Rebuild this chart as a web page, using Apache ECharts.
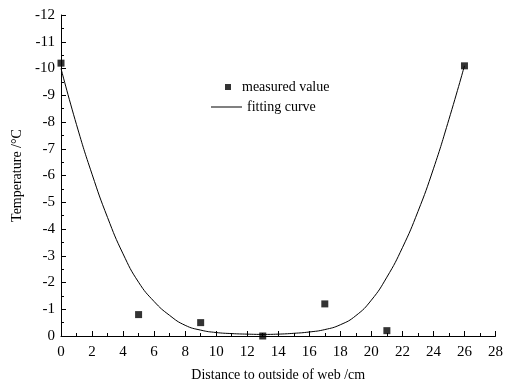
<!DOCTYPE html>
<html>
<head>
<meta charset="utf-8">
<script src="https://cdn.jsdelivr.net/npm/echarts@6/dist/echarts.min.js"></script>
<style>
  html, body { margin: 0; padding: 0; background: #fff; }
  #chart { width: 506px; height: 387px; }
</style>
</head>
<body>
<div id="chart"></div>
<script>
// 实测点
const measuredX = [0, 5, 9, 13, 17, 21, 26];
const measuredY = [-10.2, -0.8, -0.5, 0, -1.2, -0.2, -10.1];

// 拟合曲线
const curveX = [0, 1, 2, 3, 4, 5, 6, 7, 8, 9, 10, 11, 12, 13,
                14, 15, 16, 17, 18, 19, 20, 21, 22, 23, 24, 25, 26];
const curveY = [-10, -7.9, -6.05, -4.43, -3.07, -2.01, -1.29, -0.77, -0.40, -0.22, -0.13,
                -0.09, -0.07, -0.06, -0.07, -0.10, -0.15, -0.24, -0.42, -0.76, -1.34,
                -2.20, -3.30, -4.65, -6.25, -8.10, -10.1];

const font = 'Liberation Serif, Times New Roman, serif';

const option = {
    animation: false,
    backgroundColor: '#fff',
    textStyle: { fontFamily: font, color: '#000' },
    grid: { left: 61, right: 9, top: 15, bottom: 48 },
    legend: [
        {
            data: ['measured value'],
            left: 220, top: 75,
            icon: 'rect', itemWidth: 6, itemHeight: 6,
            textStyle: { fontFamily: font, fontSize: 14, color: '#000', padding: [0, 0, 0, 6] }
        },
        {
            data: [{ name: 'fitting curve', icon: 'rect' }],
            left: 206, top: 95,
            itemWidth: 31, itemHeight: 1,
            textStyle: { fontFamily: font, fontSize: 14, color: '#000' }
        }
    ],
    xAxis: {
        type: 'value',
        min: 0, max: 28, interval: 2,
        name: 'Distance to outside of web /cm',
        nameLocation: 'middle', nameGap: 32,
        nameTextStyle: { fontFamily: font, fontSize: 14, color: '#000' },
        axisLine: { lineStyle: { color: '#000', width: 1 } },
        axisTick: { inside: true, length: 5, lineStyle: { color: '#000' } },
        minorTick: { show: true, splitNumber: 2, length: 3, lineStyle: { color: '#000' } },
        axisLabel: { fontFamily: font, fontSize: 15, color: '#000', margin: 9 },
        splitLine: { show: false }
    },
    yAxis: {
        type: 'value',
        inverse: true,
        min: -12, max: 0, interval: 1,
        name: 'Temperature /\u00b0C',
        nameLocation: 'middle', nameGap: 37,
        nameTextStyle: { fontFamily: font, fontSize: 14, color: '#000' },
        axisLine: { show: true, lineStyle: { color: '#000', width: 1 } },
        axisTick: { show: true, inside: true, length: 5, lineStyle: { color: '#000' } },
        minorTick: { show: true, splitNumber: 2, length: 3, lineStyle: { color: '#000' } },
        axisLabel: { fontFamily: font, fontSize: 15, color: '#000', margin: 6 },
        splitLine: { show: false }
    },
    series: [
        {
            name: 'measured value',
            type: 'scatter',
            symbol: 'rect',
            symbolSize: 7,
            itemStyle: { color: '#000' },
            data: measuredX.map((x, i) => [x, measuredY[i]]),
            z: 3
        },
        {
            name: 'fitting curve',
            type: 'line',
            symbol: 'none',
            smooth: 0.5,
            lineStyle: { color: '#000', width: 1 },
            itemStyle: { color: '#000' },
            data: curveX.map((x, i) => [x, curveY[i]]),
            z: 2
        }
    ]
};

const chart = echarts.init(document.getElementById('chart'));
chart.setOption(option);
</script>
</body>
</html>
